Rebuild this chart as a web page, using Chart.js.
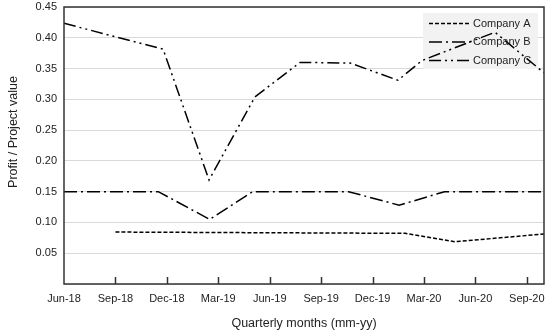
<!DOCTYPE html>
<html>
<head>
<meta charset="utf-8">
<script src="https://cdn.jsdelivr.net/npm/chart.js@4/dist/chart.umd.min.js"></script>
<style>
  html, body { margin: 0; padding: 0; background: #ffffff; }
  #wrap { width: 550px; height: 333px; }
</style>
</head>
<body>
<div id="wrap"><canvas id="c" width="550" height="333"></canvas></div>
<script>
// ---- data (months counted from Jun-18) ----
const xLabels = ['Jun-18','Sep-18','Dec-18','Mar-19','Jun-19','Sep-19','Dec-19','Mar-20','Jun-20','Sep-20'];
const seriesNames = ['Company A', 'Company B', 'Company C'];
const monthsA = [3, 19.9, 22.8, 28];
const valuesA = [0.0844, 0.0823, 0.0687, 0.0812];
const monthsB = [0, 5.5, 8.5, 11.0, 16.6, 19.55, 22.2, 28];
const valuesB = [0.15, 0.15, 0.105, 0.15, 0.15, 0.128, 0.15, 0.15];
const monthsC = [0, 5.78, 8.46, 11.14, 13.77, 16.68, 19.48, 20.88, 25.14, 28];
const valuesC = [0.4235, 0.3815, 0.169, 0.304, 0.360, 0.359, 0.331, 0.363, 0.409, 0.343];
const yTicks = [0.05, 0.10, 0.15, 0.20, 0.25, 0.30, 0.35, 0.40, 0.45];
const xTitle = 'Quarterly months (mm-yy)';
const yTitle = 'Profit / Project value';

const FONT = '"Liberation Sans", Arial, sans-serif';
const pts = (xs, ys) => xs.map((x, i) => ({ x: x, y: ys[i] }));

const legendPlugin = {
  id: 'innerLegend',
  beforeDatasetsDraw(chart) {
    const ctx = chart.ctx;
    ctx.save();
    ctx.fillStyle = '#f2f2f2';
    ctx.fillRect(423, 13, 115, 56);
    ctx.font = '11px ' + FONT;
    ctx.textBaseline = 'middle';
    ctx.textAlign = 'left';
    chart.data.datasets.forEach((ds, i) => {
      const y = 23.5 + i * 18.5;
      ctx.strokeStyle = ds.borderColor;
      ctx.lineWidth = ds.borderWidth;
      ctx.setLineDash(ds.borderDash);
      ctx.beginPath();
      ctx.moveTo(429, y);
      ctx.lineTo(470, y);
      ctx.stroke();
      ctx.setLineDash([]);
      ctx.fillStyle = '#222';
      ctx.fillText(ds.label, 473, y);
    });
    ctx.restore();
  }
};

const framePlugin = {
  id: 'frame',
  afterDatasetsDraw(chart) {
    const ctx = chart.ctx;
    const a = chart.chartArea;
    const xs = chart.scales.x;
    ctx.save();
    ctx.strokeStyle = '#333';
    ctx.lineWidth = 1.5;
    ctx.setLineDash([]);
    ctx.strokeRect(a.left, a.top, a.right - a.left, a.bottom - a.top);
    // inward tick marks on x axis
    xs.ticks.forEach(t => {
      if (t.value <= xs.min) return;
      const px = Math.round(xs.getPixelForValue(t.value)) + 0.5;
      ctx.beginPath();
      ctx.moveTo(px, a.bottom);
      ctx.lineTo(px, a.bottom - 7);
      ctx.stroke();
    });
    // y axis title
    ctx.fillStyle = '#222';
    ctx.font = '12.5px ' + FONT;
    ctx.textAlign = 'center';
    ctx.textBaseline = 'middle';
    ctx.translate(14, 132);
    ctx.rotate(-Math.PI / 2);
    ctx.fillText(yTitle, 0, 0);
    ctx.restore();
  }
};

new Chart(document.getElementById('c'), {
  type: 'line',
  data: {
    datasets: [
      { label: seriesNames[0], data: pts(monthsA, valuesA), borderColor: '#000', borderWidth: 1.5, borderDash: [4, 2], pointRadius: 0, tension: 0, fill: false },
      { label: seriesNames[1], data: pts(monthsB, valuesB), borderColor: '#000', borderWidth: 1.5, borderDash: [13, 4, 2, 4], pointRadius: 0, tension: 0, fill: false },
      { label: seriesNames[2], data: pts(monthsC, valuesC), borderColor: '#000', borderWidth: 1.5, borderDash: [12, 4, 2, 4, 2, 4], pointRadius: 0, tension: 0, fill: false }
    ]
  },
  options: {
    responsive: false,
    animation: false,
    devicePixelRatio: 1,
    layout: { padding: { top: 7, right: 6, left: 0, bottom: 0 } },
    plugins: { legend: { display: false }, tooltip: { enabled: false } },
    scales: {
      x: {
        type: 'linear',
        min: 0,
        max: 28,
        afterFit(s) { s.height = 49; s.paddingLeft = 0; s.paddingRight = 0; },
        grid: { display: false, drawTicks: false },
        border: { display: false },
        ticks: {
          stepSize: 3,
          includeBounds: false,
          padding: 8,
          color: '#222',
          font: { family: FONT, size: 11 },
          maxRotation: 0,
          autoSkip: false,
          callback: (v) => xLabels[Math.round(v / 3)] || ''
        },
        title: { display: true, text: xTitle, color: '#222', font: { family: FONT, size: 12.5 }, padding: { top: 0, bottom: 2 } }
      },
      y: {
        min: 0,
        max: 0.45,
        afterFit(s) { s.width = 64; s.paddingTop = 0; s.paddingBottom = 0; },
        afterBuildTicks(s) { s.ticks = [0].concat(yTicks).map(v => ({ value: v })); },
        grid: { color: '#d9d9d9', lineWidth: 1, drawTicks: false },
        border: { display: false },
        ticks: {
          padding: 7,
          color: '#222',
          font: { family: FONT, size: 11 },
          callback: (v) => v < 0.001 ? '' : v.toFixed(2)
        }
      }
    }
  },
  plugins: [legendPlugin, framePlugin]
});
</script>
</body>
</html>
